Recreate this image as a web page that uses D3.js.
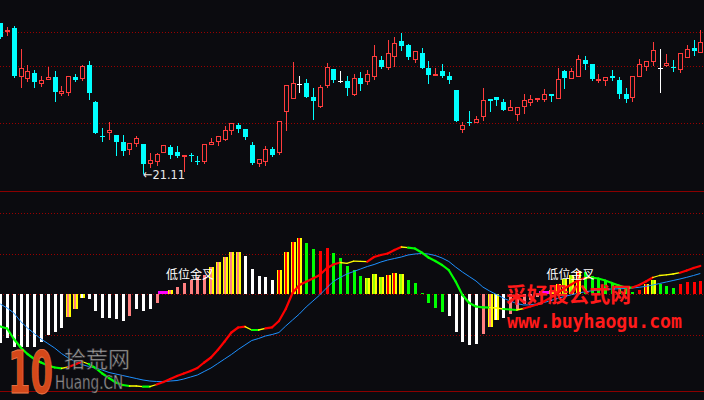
<!DOCTYPE html>
<html><head><meta charset="utf-8">
<script src="https://cdn.jsdelivr.net/npm/d3@7/dist/d3.min.js"></script>
<style>html,body{margin:0;padding:0;background:#0b0b0f;overflow:hidden}</style>
</head><body><svg id="c" width="704" height="400"></svg>
<script>
// ---------- price data (one per candle) ----------
const open = [28.61,28.19,28.36,25.94,25.81,26.13,25.59,25.79,25.93,25.09,
25.14,25.93,25.83,26.53,24.68,22.99,23.14,23.03,22.68,22.29,
22.59,22.58,21.59,21.69,22.14,22.43,22.18,21.91,22.03,21.73,
21.69,22.54,22.69,22.79,23.23,23.53,23.33,22.53,21.59,21.69,
22.33,22.14,24.19,24.84,25.56,25.63,24.93,24.44,25.49,26.33,
25.75,25.73,25.03,25.88,25.68,25.93,26.78,26.38,26.93,27.73,
27.53,26.78,27.13,26.38,25.98,26.23,25.98,25.28,23.29,23.68,
23.63,23.94,24.83,24.93,24.68,24.24,24.04,24.44,24.64,24.79,
24.79,25.08,24.84,26.23,25.84,25.91,26.78,26.58,25.74,25.74,
25.98,25.78,25.08,24.89,25.94,26.44,26.69,26.36,26.48,26.43,
26.29,26.89,27.38,27.14];
const high = [28.63,28.41,28.48,27.33,26.53,26.28,25.98,26.43,26.23,25.48,
25.98,26.08,26.53,26.73,24.73,23.38,23.68,23.03,23.03,22.63,
22.98,22.58,22.13,22.13,22.53,22.53,22.48,22.03,22.13,21.98,
22.58,22.88,22.98,23.48,23.63,23.63,23.33,22.68,21.81,22.48,
22.43,23.73,25.53,26.68,25.98,25.83,25.38,25.53,26.63,26.33,
26.23,25.98,26.08,26.18,26.28,27.53,26.98,27.78,27.93,28.13,
27.58,27.23,27.38,26.73,26.38,26.58,26.18,25.28,23.68,24.23,
23.98,25.38,24.83,24.93,24.83,24.78,24.43,25.08,25.03,24.88,
25.33,25.08,26.38,26.28,26.38,27.03,26.98,26.58,26.08,25.91,
26.28,25.93,25.38,25.96,26.83,26.73,27.68,27.33,27.08,26.78,
27.13,27.53,27.78,28.28];
const low = [27.88,27.99,25.91,25.39,25.69,25.44,25.44,25.79,24.74,24.99,
24.99,25.73,25.73,24.84,23.14,22.74,22.79,22.04,22.04,22.04,
22.44,21.11,21.39,21.49,22.14,21.89,21.94,21.19,21.74,21.59,
21.59,22.54,22.49,22.74,23.04,23.18,22.84,21.59,21.44,21.49,
21.99,22.04,23.24,24.84,25.19,24.94,23.84,24.39,25.39,25.68,
25.68,25.03,24.98,25.28,25.53,25.78,26.38,26.28,26.43,27.28,
26.83,26.63,26.38,25.63,25.98,25.93,25.63,23.73,23.14,23.54,
23.63,23.74,24.23,24.54,24.29,24.24,23.74,24.09,24.49,24.69,
24.69,24.74,24.84,25.39,25.84,25.91,26.33,25.78,25.64,25.49,
25.78,24.89,24.69,24.69,25.94,26.24,26.49,25.19,26.43,26.23,
26.14,26.89,27.03,27.14];
const close = [27.91,28.29,25.98,26.38,26.23,25.69,25.78,25.93,25.19,25.23,
25.98,25.78,26.48,25.14,23.14,22.94,23.28,22.68,22.24,22.63,
22.88,21.59,21.78,22.08,22.53,22.04,21.99,22.03,21.99,21.69,
22.58,22.68,22.98,23.28,23.63,23.33,22.94,21.64,21.81,22.33,
22.04,23.73,25.53,25.63,25.56,24.94,24.74,25.43,26.43,25.78,
25.75,25.38,25.88,25.58,26.08,26.98,26.43,27.13,27.63,27.48,
26.93,27.23,26.38,26.03,26.08,25.98,25.78,23.73,23.53,23.63,
23.83,24.78,24.74,24.79,24.29,24.43,24.43,24.78,24.83,24.88,
25.08,24.99,25.83,25.88,26.23,26.83,26.58,25.83,25.83,25.91,
25.88,25.09,24.83,25.96,26.58,26.73,27.28,26.36,26.63,26.39,
27.13,27.33,27.23,27.68];
const lowMarkIndex = 21;
const lowMarkText = "←21.11";
const priceGrid = [28.16, 26.46, 23.61];

// ---------- indicator data ----------
const hist = [-0.487,-0.437,-0.527,-0.527,-0.524,-0.527,-0.48,-0.404,-0.38,-0.334,
-0.224,-0.144,-0.034,-0.044,-0.164,-0.234,-0.234,-0.244,-0.264,-0.214,
-0.147,-0.164,-0.147,-0.084,0.033,0.043,0.073,0.116,0.143,0.17,
0.193,0.276,0.326,0.373,0.423,0.423,0.383,0.253,0.183,0.173,
0.143,0.243,0.423,0.523,0.563,0.513,0.453,0.433,0.463,0.413,
0.363,0.283,0.243,0.183,0.163,0.203,0.173,0.193,0.213,0.203,
0.143,0.113,0.013,-0.087,-0.137,-0.177,-0.217,-0.377,-0.477,-0.507,
-0.497,-0.397,-0.327,-0.257,-0.237,-0.197,-0.147,-0.097,-0.057,-0.027,
0.033,0.043,0.103,0.153,0.193,0.233,0.223,0.183,0.153,0.143,
0.113,0.093,0.053,0.023,0.043,0.103,0.143,0.103,0.083,0.063,
0.103,0.123,0.123,0.133];
const histColor = "wwwwwwwwww"+"pp"+"wwwwwww"+"p"+"www"+"p"+"m"+"ppppppppppp"+"wwwww"+"rrrr"+"gg"+"rr"+"ggggg"+"lll"+"rr"+"l"+"gggggg"+"wwwww"+"pp"+"ww"+"ppppp"+"m"+"p"+"r"+"ll"+"r"+"gggggggg"+"rr"+"l"+"ggg"+"rrrr";
const outlined = [10,11,12,25,31,32,33,34,35,41,42,43,44,54,55,56,57,58,59,72,73,81,82,83,84,85,95,96];
const goldenCross = [24, 80];
const goldenLabel = "低位金叉";
const dif = [-0.322,-0.342,-0.447,-0.532,-0.597,-0.647,-0.682,-0.712,-0.732,-0.74,
-0.727,-0.702,-0.672,-0.697,-0.737,-0.792,-0.837,-0.882,-0.907,-0.917,
-0.917,-0.924,-0.924,-0.902,-0.877,-0.847,-0.817,-0.792,-0.767,-0.737,
-0.682,-0.632,-0.557,-0.472,-0.382,-0.332,-0.324,-0.357,-0.357,-0.34,
-0.33,-0.267,-0.147,0.013,0.093,0.126,0.158,0.193,0.258,0.298,
0.318,0.31,0.331,0.33,0.326,0.373,0.393,0.408,0.443,0.473,
0.466,0.458,0.418,0.368,0.333,0.293,0.241,0.128,-0.007,-0.087,
-0.122,-0.13,-0.132,-0.137,-0.147,-0.152,-0.157,-0.142,-0.122,-0.102,
-0.072,-0.032,0.013,0.058,0.098,0.138,0.163,0.168,0.158,0.138,
0.113,0.088,0.068,0.068,0.093,0.128,0.168,0.188,0.195,0.203,
0.216,0.238,0.263,0.283];
const difColor = "ggggggggg"+"y"+"rr"+"y"+"gggggg"+"yy"+"g"+"y"+"rrrrrrrrrrrrr"+"y"+"g"+"y"+"rrrrrrrrrrr"+"yyyy"+"rrrrr"+"y"+"gggggggggggg"+"yy"+"gg"+"y"+"rrrrrrrrr"+"y"+"gggggg"+"rrr"+"yyyy"+"rrrr";
const dea = [-0.097,-0.137,-0.187,-0.272,-0.337,-0.392,-0.447,-0.492,-0.537,-0.592,
-0.637,-0.672,-0.702,-0.722,-0.737,-0.757,-0.782,-0.797,-0.812,-0.827,
-0.842,-0.857,-0.867,-0.872,-0.874,-0.867,-0.862,-0.847,-0.827,-0.807,
-0.772,-0.737,-0.692,-0.647,-0.602,-0.552,-0.507,-0.462,-0.442,-0.417,
-0.402,-0.382,-0.317,-0.257,-0.197,-0.127,-0.067,-0.007,0.063,0.128,
0.168,0.203,0.228,0.253,0.278,0.298,0.323,0.343,0.358,0.373,
0.393,0.403,0.408,0.403,0.388,0.363,0.328,0.273,0.223,0.178,
0.133,0.073,0.033,-0.002,-0.037,-0.067,-0.092,-0.107,-0.105,-0.097,
-0.082,-0.062,-0.042,-0.022,-0.005,0.011,0.025,0.035,0.043,0.05,
0.053,0.055,0.058,0.063,0.07,0.08,0.093,0.108,0.123,0.138,
0.153,0.17,0.188,0.208];
const macdGrid = [0.81, 0.40, 0, -0.41];

// ---------- drawing ----------
const BG = '#0b0b0f', RED = '#ff3c3c', CYAN = '#00ffff', WHITE = '#ffffff', GRID = '#9a0000', AXIS = '#8a0000';
const COL = {w:'#ffffff', p:'#ff8080', r:'#ff0000', g:'#00ff00', l:'#9cff00', m:'#ff00ff', y:'#ffff00'};
const n = open.length;
const idx = d3.range(n);
const x = d3.scaleLinear().domain([0, n - 1]).range([0.3, 700.3]);
const yP = d3.scaleLinear().domain([20.21, 29.775]).range([191.3, 0]);
const yM = d3.scaleLinear().domain([-0.974, 0.943]).range([391.7, 200]);

const svg = d3.select('#c');
svg.append('rect').attr('width', 704).attr('height', 400).attr('fill', BG);

// grid lines
const grid = svg.append('g').attr('shape-rendering', 'crispEdges');
priceGrid.forEach(p => grid.append('line').attr('x1', 0).attr('x2', 704)
  .attr('y1', Math.round(yP(p)) + 0.5).attr('y2', Math.round(yP(p)) + 0.5)
  .attr('stroke', GRID).attr('stroke-dasharray', '1,2'));
macdGrid.forEach(v => grid.append('line').attr('x1', 0).attr('x2', 704)
  .attr('y1', Math.round(yM(v)) + 0.5).attr('y2', Math.round(yM(v)) + 0.5)
  .attr('stroke', GRID).attr('stroke-dasharray', '1,2'));
[yP.range()[0], yM.range()[0]].forEach(yy => grid.append('line').attr('x1', 0).attr('x2', 704)
  .attr('y1', Math.floor(yy) + 0.5).attr('y2', Math.floor(yy) + 0.5).attr('stroke', AXIS));

// candles
const cg = svg.append('g').attr('shape-rendering', 'crispEdges');
idx.forEach(i => {
  const cx = Math.round(x(i));
  const o = open[i], c = close[i];
  const up = c > o, down = c < o;
  const col = up ? RED : (down ? CYAN : WHITE);
  const top = Math.round(yP(Math.max(o, c))), bot = Math.round(yP(Math.min(o, c)));
  const yh = Math.round(yP(high[i])), yl = Math.round(yP(low[i]));
  const wx = cx + 0.5;
  if (up) {
    if (yh < top) cg.append('line').attr('x1', wx).attr('x2', wx).attr('y1', yh).attr('y2', top).attr('stroke', col);
    if (yl > bot) cg.append('line').attr('x1', wx).attr('x2', wx).attr('y1', bot).attr('y2', yl).attr('stroke', col);
    if (bot - top <= 2) {
      cg.append('rect').attr('x', cx - 2).attr('y', top).attr('width', 5).attr('height', Math.max(1, bot - top)).attr('fill', col);
    } else {
      cg.append('rect').attr('x', cx - 1.5).attr('y', top + 0.5).attr('width', 4).attr('height', bot - top - 1)
        .attr('fill', BG).attr('stroke', col);
    }
  } else {
    cg.append('line').attr('x1', wx).attr('x2', wx).attr('y1', yh).attr('y2', yl + 1).attr('stroke', col);
    cg.append('rect').attr('x', cx - 2).attr('y', top).attr('width', 5).attr('height', Math.max(1, bot - top)).attr('fill', col);
  }
});

// low price marker
svg.append('text').attr('x', x(lowMarkIndex)).attr('y', yP(low[lowMarkIndex]) + 5.5)
  .attr('font-family', 'DejaVu Sans').attr('font-size', 13).attr('fill', '#e8e8e8')
  .attr('textLength', 42).attr('lengthAdjust', 'spacingAndGlyphs').text(lowMarkText);

// histogram
const hg = svg.append('g').attr('shape-rendering', 'crispEdges');
const y0 = Math.round(yM(0));
idx.forEach(i => {
  const cx = Math.round(x(i));
  const yv = Math.round(yM(hist[i]));
  const top = Math.min(y0, yv), h = Math.max(1, Math.abs(yv - y0));
  const c = histColor[i];
  if (c === 'm') {
    hg.append('rect').attr('x', cx - 5).attr('y', top).attr('width', 11).attr('height', h).attr('fill', COL.m);
    return;
  }
  if (outlined.includes(i)) {
    hg.append('rect').attr('x', cx - 2).attr('y', top).attr('width', 5).attr('height', h).attr('fill', COL.y);
  }
  hg.append('rect').attr('x', cx - 1).attr('y', top).attr('width', outlined.includes(i) ? 2 : 3).attr('height', h).attr('fill', COL[c]);
});

// DEA line
svg.append('path').datum(idx)
  .attr('d', d3.line().x(i => x(i)).y(i => yM(dea[i])))
  .attr('fill', 'none').attr('stroke', '#1e90ff').attr('stroke-width', 1);

// DIF line (coloured segments)
const dg = svg.append('g');
d3.range(n - 1).forEach(i => {
  const c = difColor[i];
  dg.append('line').attr('x1', x(i)).attr('y1', yM(dif[i])).attr('x2', x(i + 1)).attr('y2', yM(dif[i + 1]))
    .attr('stroke', COL[c]).attr('stroke-width', c === 'y' ? 1.3 : 2.2).attr('stroke-linecap', 'round');
});

// golden-cross labels
goldenCross.forEach(i => {
  svg.append('text').attr('x', x(i) + 2.5).attr('y', 279)
    .attr('font-family', 'Noto Sans CJK SC').attr('font-size', 12).attr('fill', '#ffffff')
    .text(goldenLabel);
});

// watermarks
const wm = svg.append('g');
wm.append('text').attr('x', 8).attr('y', 393).attr('font-family', 'DejaVu Sans').attr('font-weight', 'bold')
  .attr('font-size', 58).attr('fill', '#d4481a').attr('stroke', '#f07a4a').attr('stroke-width', 0.8)
  .attr('textLength', 45).attr('lengthAdjust', 'spacingAndGlyphs').text('10');
wm.append('text').attr('x', 64).attr('y', 367).attr('font-family', 'Noto Sans CJK SC').attr('font-size', 22)
  .attr('fill', '#b4b4b4').attr('stroke', '#2a2a2a').attr('stroke-width', 0.6).attr('opacity', 0.9).text('拾荒网');
wm.append('text').attr('x', 55).attr('y', 389).attr('font-family', 'DejaVu Sans').attr('font-size', 19)
  .attr('fill', '#b4b4b4').attr('stroke', '#2a2a2a').attr('stroke-width', 0.6).attr('opacity', 0.9)
  .attr('textLength', 68).attr('lengthAdjust', 'spacingAndGlyphs').text('Huang.CN');
wm.append('text').attr('x', 506).attr('y', 302).attr('font-family', 'Noto Sans CJK SC').attr('font-weight', 'bold')
  .attr('font-size', 21).attr('fill', '#ff1a1a').attr('textLength', 125).attr('lengthAdjust', 'spacingAndGlyphs').text('采好股公式网');
wm.append('text').attr('x', 507).attr('y', 328).attr('font-family', 'DejaVu Sans Mono').attr('font-weight', 'bold')
  .attr('font-size', 19).attr('fill', '#ff1a1a').attr('textLength', 175).attr('lengthAdjust', 'spacingAndGlyphs').text('www.buyhaogu.com');
</script>
</body></html>
